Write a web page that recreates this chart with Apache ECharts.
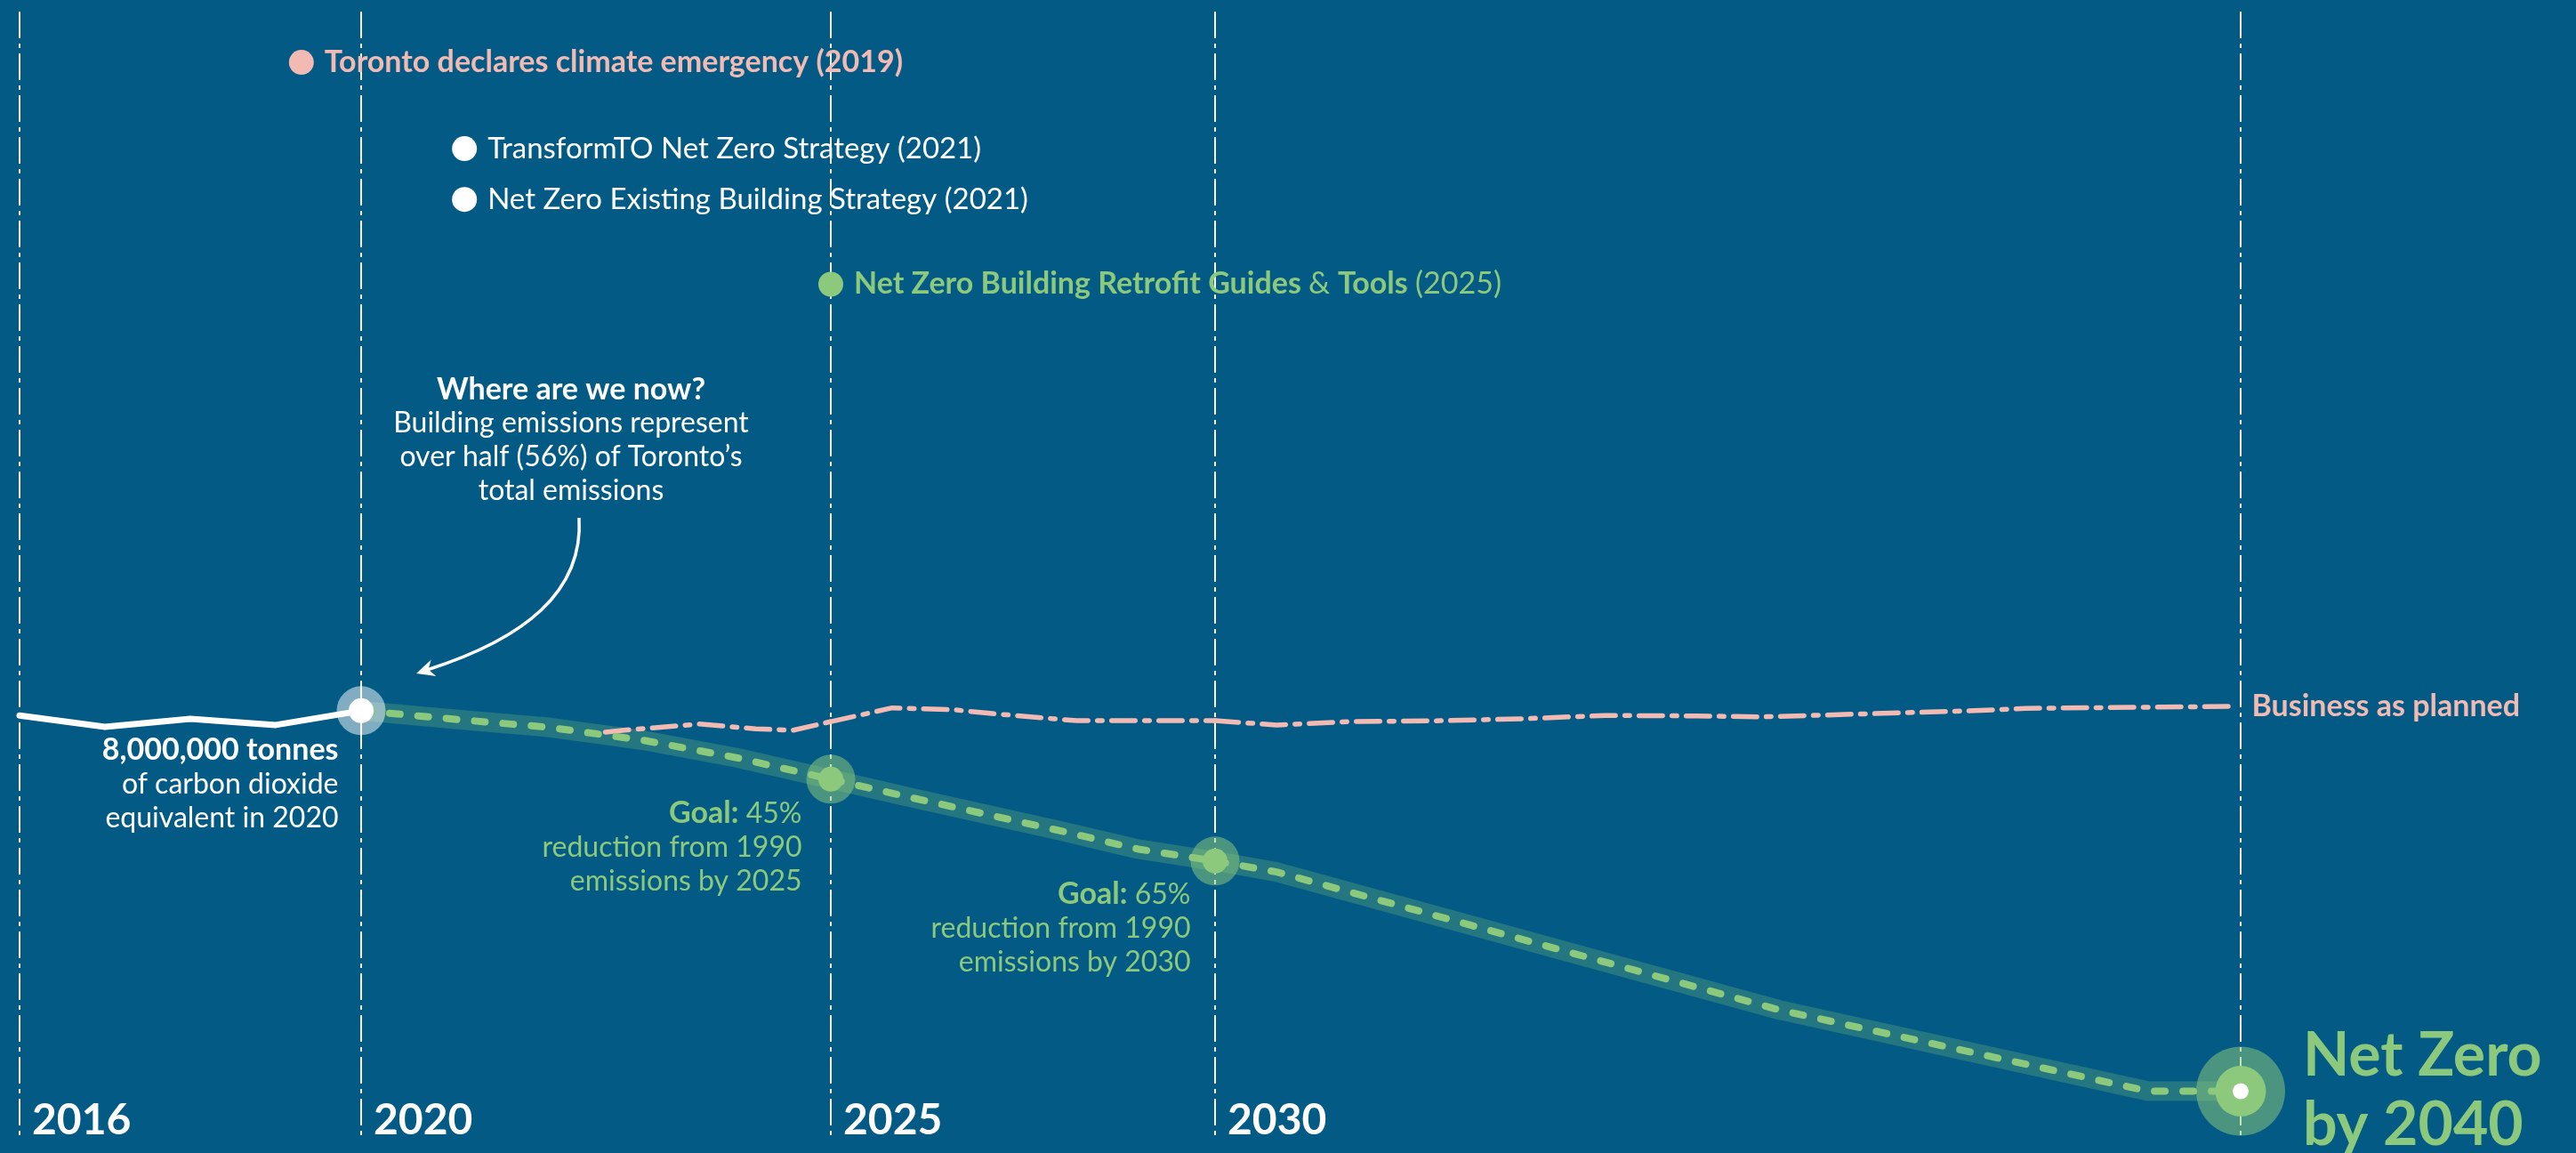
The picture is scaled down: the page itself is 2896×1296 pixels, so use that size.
<!DOCTYPE html>
<html>
<head>
<meta charset="utf-8">
<script src="https://cdn.jsdelivr.net/npm/echarts@6/dist/echarts.min.js"></script>
<style>
  html, body { margin: 0; padding: 0; background: #035b85; }
  #chart { width: 2896px; height: 1296px; }
</style>
</head>
<body>
<div id="chart"></div>
<script>
// Toronto building-sector emissions, million tonnes CO2e

// Measured emissions
const historyYears = [2016, 2017, 2018, 2019, 2020];
const historyMt    = [7.90, 7.66, 7.83, 7.70, 8.00];

// Net-zero pathway
const pathwayYears = [2020, 2021, 2022, 2023, 2024, 2025, 2026, 2027, 2028, 2029, 2030, 2030.6, 2035.5, 2039.1, 2040];
const pathwayMt    = [8.00, 7.82, 7.65, 7.38, 7.01, 6.56, 6.19, 5.83, 5.47, 5.09, 4.84, 4.61, 1.71, 0.00, 0.00];

// Business as planned
const bauYears = [2022.6, 2022.8, 2023.6, 2024.2, 2024.6, 2025, 2025.8, 2026.6, 2027.1, 2027.9, 2028.2, 2030,
                  2030.6, 2031.3, 2032.2, 2033.0, 2033.8, 2034.7, 2035.3, 2035.8, 2037.4, 2037.9, 2039.9];
const bauMt    = [7.55, 7.59, 7.72, 7.62, 7.59, 7.77, 8.06, 8.02, 7.94, 7.83, 7.79, 7.79,
                  7.70, 7.77, 7.79, 7.83, 7.90, 7.89, 7.87, 7.90, 8.00, 8.05, 8.09];

// Milestones on the pathway and their reduction goals (vs 1990)
const milestoneYears = [2020, 2025, 2030, 2040];
const goalYears  = [2025, 2030];
const goalCutPct = [45, 65];

// Policy timeline
const eventTitles = [
  'Toronto declares climate emergency',
  'TransformTO Net Zero Strategy',
  'Net Zero Existing Building Strategy',
  'Net Zero Building Retrofit Guides & Tools'
];
const eventYears = [2019, 2021, 2021, 2025];
const eventAt    = [2019.3, 2021.1, 2021.1, 2025];
const eventKinds = ['declaration', 'strategy', 'strategy', 'tools'];

// Year ticks that split the timeline into segments
const axisYears = [2016, 2020, 2025, 2030, 2040];

// ---- layout & styling ----
const FONT = 'Lato';
const GREEN = '#8cc97d';
const PINK = '#f2bab2';
const WHITE = '#ffffff';
const BAND = '#247681';
const segEdges = [22, 406, 934, 1366, 2519];   // pixel edges of each timeline segment
const GRID_TOP = 13, GRID_H = 1267;
const Y_MIN = -1.0, Y_MAX = 22.7;               // emissions axis (Mt)
const LANE_MAX = 22.2;                          // event lane axis
const eventLanes = [1, 2.7, 3.7, 5.37];

const segs = axisYears.slice(0, -1).map((y, i) => [y, axisYears[i + 1]]);
const segOf = yr => segs.findIndex(s => yr >= s[0] && yr <= s[1]);
const pick = (xs, vs, s) => xs.map((x, i) => [x, vs[i]]).filter(p => p[0] >= s[0] && p[0] <= s[1]);

const grid = segs.map((s, i) => ({
  left: segEdges[i], width: segEdges[i + 1] - segEdges[i],
  top: GRID_TOP, height: GRID_H, containLabel: false, outerBoundsMode: 'none'
}));

const xAxis = segs.map((s, i) => ({
  gridIndex: i, type: 'value', min: s[0], max: s[1], interval: s[1] - s[0],
  axisLine: { show: false }, axisTick: { show: false },
  splitLine: { show: true, lineStyle: { color: WHITE, width: 2, type: [30, 6, 5, 6] } },
  axisLabel: {
    show: true, inside: true, showMinLabel: true, showMaxLabel: false,
    align: 'left', padding: [0, 0, 0, 14], margin: -4,
    formatter: v => String(v),
    color: WHITE, fontFamily: FONT, fontWeight: 'bold', fontSize: 48
  }
}));

const yAxis = [];
segs.forEach((s, i) => {
  yAxis.push({ gridIndex: i, type: 'value', min: Y_MIN, max: Y_MAX, show: false });
  yAxis.push({ gridIndex: i, type: 'value', min: 0, max: LANE_MAX, inverse: true, show: false });
});

const series = [];

// measured emissions
segs.forEach((s, i) => {
  const d = pick(historyYears, historyMt, s);
  if (d.length < 2) return;
  series.push({
    type: 'line', xAxisIndex: i, yAxisIndex: 2 * i, data: d, z: 5, clip: false,
    showSymbol: false, silent: true,
    lineStyle: { color: WHITE, width: 7, cap: 'round', join: 'round' }
  });
});

// pathway band, business-as-planned, pathway dashes
segs.forEach((s, i) => {
  const p = pick(pathwayYears, pathwayMt, s);
  const b = pick(bauYears, bauMt, s);
  if (p.length >= 2) {
    series.push({
      type: 'line', xAxisIndex: i, yAxisIndex: 2 * i, data: p, z: 2, clip: false,
      showSymbol: false, silent: true,
      lineStyle: { color: BAND, width: 22, cap: 'round', join: 'round' }
    });
  }
  if (b.length >= 2) {
    const last = i === segs.length - 1;
    series.push({
      type: 'line', xAxisIndex: i, yAxisIndex: 2 * i, data: b, z: 3, clip: false,
      showSymbol: false, silent: true,
      lineStyle: { color: PINK, width: 5.5, type: [26.5, 10.5, 5.5, 10.5], cap: 'round', join: 'round' },
      endLabel: last ? {
        show: true, formatter: 'Business as planned', distance: 24,
        color: PINK, fontFamily: FONT, fontWeight: 'bold', fontSize: 34
      } : { show: false }
    });
  }
  if (p.length >= 2) {
    series.push({
      type: 'line', xAxisIndex: i, yAxisIndex: 2 * i, data: p, z: 5, clip: false,
      showSymbol: false, silent: true,
      lineStyle: { color: GREEN, width: 8, type: [12, 20], cap: 'round', join: 'round' }
    });
  }
});

// milestone markers
const valueAt = yr => pathwayMt[pathwayYears.indexOf(yr)];
const bodyRich = (c) => ({
  b: { color: c, fontFamily: FONT, fontWeight: 'bold', fontSize: 34, lineHeight: 38 },
  r: { color: c, fontFamily: FONT, fontWeight: 'normal', fontSize: 32, lineHeight: 38 }
});

milestoneYears.forEach((yr, k) => {
  const g = segOf(yr);
  const v = valueAt(yr);
  const pt = [[yr, v]];
  const isStart = k === 0;
  const isEnd = k === milestoneYears.length - 1;
  const gi = goalYears.indexOf(yr);

  let label = { show: false };
  if (isStart) {
    label = {
      show: true, position: [2, 53], align: 'right', verticalAlign: 'top',
      formatter: `{b|${Math.round(v * 1e6).toLocaleString('en-US')} tonnes}\n{r|of carbon dioxide}\n{r|equivalent in ${yr}}`,
      rich: bodyRich(WHITE)
    };
  } else if (gi >= 0) {
    label = {
      show: true, position: gi === 0 ? [-5, 47] : [0, 46], align: 'right', verticalAlign: 'top',
      formatter: `{b|Goal: }{r|${goalCutPct[gi]}%}\n{r|reduction from 1990}\n{r|emissions by ${yr}}`,
      rich: bodyRich(GREEN)
    };
  } else if (isEnd) {
    label = {
      show: true, position: 'right', distance: 20,
      formatter: `{n|Net Zero}\n{n|by ${yr}}`,
      rich: { n: { color: GREEN, fontFamily: FONT, fontWeight: 'bold', fontSize: 68, lineHeight: 78 } }
    };
  }

  // halo
  series.push({
    type: 'scatter', xAxisIndex: g, yAxisIndex: 2 * g, data: pt, z: 4, clip: false, silent: true,
    symbol: 'circle', symbolSize: isEnd ? 100 : 55,
    itemStyle: { color: isStart ? 'rgba(255,255,255,0.5)' : 'rgba(140,201,125,0.52)', opacity: 1 },
    label
  });
  // core
  series.push({
    type: 'scatter', xAxisIndex: g, yAxisIndex: 2 * g, data: pt, z: 6, clip: false, silent: true,
    symbol: 'circle', symbolSize: isEnd ? 57 : 28,
    itemStyle: { color: isStart ? WHITE : GREEN, opacity: 1 }
  });
  if (isEnd) {
    series.push({
      type: 'scatter', xAxisIndex: g, yAxisIndex: 2 * g, data: pt, z: 7, clip: false, silent: true,
      symbol: 'circle', symbolSize: 18, itemStyle: { color: WHITE, opacity: 1 }
    });
  }
});

// policy timeline events
const eventColor = { declaration: PINK, strategy: WHITE, tools: GREEN };
const eventText = (k) => {
  const kind = eventKinds[k], t = eventTitles[k], y = eventYears[k];
  if (kind === 'declaration') return `{pb|${t} (${y})}`;
  if (kind === 'strategy') return `{w|${t} (${y})}`;
  const parts = t.split(' & ');
  return `{gb|${parts[0]} }{gr|& }{gb|${parts[1]} }{gr|(${y})}`;
};
const eventRich = {
  pb: { color: PINK, fontFamily: FONT, fontWeight: 'bold', fontSize: 34 },
  w:  { color: WHITE, fontFamily: FONT, fontWeight: 'normal', fontSize: 33 },
  gb: { color: GREEN, fontFamily: FONT, fontWeight: 'bold', fontSize: 34 },
  gr: { color: GREEN, fontFamily: FONT, fontWeight: 'normal', fontSize: 34 }
};
segs.forEach((s, i) => {
  const items = [];
  eventAt.forEach((x, k) => {
    if (segOf(x) !== i) return;
    items.push({
      value: [x, eventLanes[k]],
      itemStyle: { color: eventColor[eventKinds[k]], opacity: 1 },
      label: { formatter: eventText(k) }
    });
  });
  if (!items.length) return;
  series.push({
    type: 'scatter', xAxisIndex: i, yAxisIndex: 2 * i + 1, data: items, z: 6, clip: false, silent: true,
    symbol: 'circle', symbolSize: 28,
    label: { show: true, position: 'right', distance: 12, fontSize: 34, rich: eventRich }
  });
});

// "where are we now" note with a curved pointer to 2020
const graphic = [
  {
    type: 'text', x: 642, y: 419, z: 10, silent: true,
    style: {
      text: '{h|Where are we now?}\n{p|Building emissions represent}\n{p|over half (56%) of Toronto’s}\n{p|total emissions}',
      align: 'center', verticalAlign: 'top',
      rich: {
        h: { fill: WHITE, fontFamily: FONT, fontWeight: 'bold', fontSize: 34, lineHeight: 38, align: 'center' },
        p: { fill: WHITE, fontFamily: FONT, fontWeight: 'normal', fontSize: 32, lineHeight: 38, align: 'center' }
      }
    }
  },
  {
    type: 'bezierCurve', z: 10, silent: true,
    shape: { x1: 651, y1: 582, cpx1: 656, cpy1: 665, cpx2: 590, cpy2: 718, x2: 480, y2: 753 },
    style: { stroke: WHITE, lineWidth: 3.5, fill: null }
  },
  {
    type: 'polygon', z: 10, silent: true,
    shape: { points: [[468, 757], [484.7, 741.5], [481.5, 752.5], [490.3, 760]] },
    style: { fill: WHITE }
  }
];

const chart = echarts.init(document.getElementById('chart'), null, { renderer: 'canvas' });
chart.setOption({
  animation: false,
  backgroundColor: '#035b85',
  textStyle: { fontFamily: FONT },
  grid, xAxis, yAxis, series, graphic
});
</script>
</body>
</html>
